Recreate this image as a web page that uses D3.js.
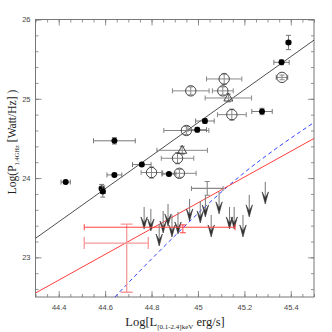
<!DOCTYPE html>
<html><head><meta charset="utf-8">
<script src="https://cdn.jsdelivr.net/npm/d3@7"></script>
<style>body{margin:0;background:#fff}</style></head>
<body>
<script>
// ---- data ----
const filledX    = [44.43, 44.64, 44.64, 44.585, 44.59, 44.758, 45.03, 44.997, 45.39, 45.36, 45.276, 44.875];
const filledY    = [23.95, 24.47, 24.04, 23.87, 23.83, 24.17, 24.72, 24.61, 25.71, 25.46, 24.84, 24.05];
const filledXerr = [0.02, 0.09, 0.032, 0.01, 0.01, 0.04, 0.04, 0.04, 0.01, 0.033, 0.044, 0.03];
const filledYerr = [0.02, 0.04, 0.02, 0.05, 0.07, 0.02, 0.03, 0.03, 0.09, 0.03, 0.04, 0.02];

const openX    = [45.113, 44.969, 45.107, 45.146, 44.95, 44.912, 44.80, 44.92, 45.362];
const openY    = [25.25, 25.10, 25.10, 24.80, 24.60, 24.25, 24.07, 24.06, 25.27];
const openXerr = [0.076, 0.079, 0.045, 0.062, 0.097, 0.07, 0.045, 0.072, 0.025];
const openYerr = [0.07, 0.05, 0.05, 0.07, 0.05, 0.07, 0.07, 0.05, 0.03];

const triX    = [45.131, 44.932];
const triY    = [25.01, 24.35];
const triXerr = [0.10, 0.109];
const triYerr = [0.05, 0.05];

const grayX = [45.04], grayY = [23.87], grayXerr = [0.068], grayYerr = [0.087];

const limX = [44.768, 44.797, 44.833, 44.850, 44.871, 44.888, 44.914, 44.964, 45.010, 45.032, 45.057, 45.091, 45.136, 45.156, 45.194, 45.221, 45.290];
const limY = [23.636, 23.611, 23.421, 23.585, 23.674, 23.535, 23.573, 23.737, 23.712, 23.788, 23.535, 23.826, 23.636, 23.636, 23.535, 23.788, 23.952];

// stacked points (asymmetric errors)
const stackX   = [44.693, 44.935];
const stackY   = [23.18, 23.38];
const stackXlo = [44.51, 44.51];
const stackXhi = [44.786, 45.16];
const stackYlo = [22.56, 23.31];
const stackYhi = [23.42, 23.41];

const lineX      = [44.3, 45.5];
const blackLineY = [23.24, 25.74];
const redLineY   = [22.55, 24.50];
const blueX = [44.642, 44.75, 44.9, 45.05, 45.2, 45.35, 45.5];
const blueY = [22.5, 22.83, 23.27, 23.69, 24.07, 24.40, 24.70];

const xMajor = [44.4, 44.6, 44.8, 45, 45.2, 45.4];
const yMajor = [23, 24, 25, 26];

// ---- chart ----
const W = 332, H = 332;
const L = 35.5, R = 314, T = 19.5, B = 297;
const x = d3.scaleLinear([44.3, 45.5], [L, R]);
const y = d3.scaleLinear([22.5, 26], [B, T]);

const svg = d3.select("body").append("svg").attr("width", W).attr("height", H);
svg.append("defs").append("clipPath").attr("id", "clip")
  .append("rect").attr("x", L).attr("y", T).attr("width", R - L).attr("height", B - T);

const fmt = d => String(+(+d).toFixed(1));
const xMinor = d3.range(44.3, 45.5001, 0.05).map(v => +v.toFixed(2));
const yMinor = d3.range(22.6, 26.0001, 0.2).map(v => +v.toFixed(1));

function styleAxis(g) {
  g.select(".domain").remove();
  g.selectAll(".tick line").attr("stroke", "#777").attr("stroke-width", 0.8);
  g.selectAll(".tick text").attr("font-family", "Liberation Sans, Arial, sans-serif")
    .attr("font-size", 7.5).attr("fill", "#444");
}
// bottom
svg.append("g").attr("transform", `translate(0,${B})`)
  .call(d3.axisBottom(x).tickValues(xMinor).tickSize(-3).tickFormat("")).call(styleAxis);
svg.append("g").attr("transform", `translate(0,${B})`)
  .call(d3.axisBottom(x).tickValues(xMajor).tickSize(-6).tickPadding(8).tickFormat(fmt)).call(styleAxis);
// top
svg.append("g").attr("transform", `translate(0,${T})`)
  .call(d3.axisTop(x).tickValues(xMinor).tickSize(-3).tickFormat("")).call(styleAxis);
svg.append("g").attr("transform", `translate(0,${T})`)
  .call(d3.axisTop(x).tickValues(xMajor).tickSize(-6).tickFormat("")).call(styleAxis);
// left
svg.append("g").attr("transform", `translate(${L},0)`)
  .call(d3.axisLeft(y).tickValues(yMinor).tickSize(-3).tickFormat("")).call(styleAxis);
svg.append("g").attr("transform", `translate(${L},0)`)
  .call(d3.axisLeft(y).tickValues(yMajor).tickSize(-6).tickPadding(5).tickFormat(fmt)).call(styleAxis);
// right
svg.append("g").attr("transform", `translate(${R},0)`)
  .call(d3.axisRight(y).tickValues(yMinor).tickSize(-3).tickFormat("")).call(styleAxis);
svg.append("g").attr("transform", `translate(${R},0)`)
  .call(d3.axisRight(y).tickValues(yMajor).tickSize(-6).tickFormat("")).call(styleAxis);

svg.append("rect").attr("x", L).attr("y", T).attr("width", R - L).attr("height", B - T)
  .attr("fill", "none").attr("stroke", "#777").attr("stroke-width", 1);

const plot = svg.append("g").attr("clip-path", "url(#clip)");

// lines
const line = d3.line().x(d => x(d[0])).y(d => y(d[1]));
plot.append("path").attr("d", line(d3.zip(lineX, blackLineY)))
  .attr("fill", "none").attr("stroke", "#222").attr("stroke-width", 0.8);
plot.append("path").attr("d", line.curve(d3.curveMonotoneX)(d3.zip(blueX, blueY)))
  .attr("fill", "none").attr("stroke", "#3344ff").attr("stroke-width", 1).attr("stroke-dasharray", "4,3");
line.curve(d3.curveLinear);
plot.append("path").attr("d", line(d3.zip(lineX, redLineY)))
  .attr("fill", "none").attr("stroke", "#ff3c3c").attr("stroke-width", 1);

// error bar helper
function errbar(g, cx, cy, xlo, xhi, ylo, yhi, color, cap, sw) {
  const px = x(cx), py = y(cy);
  g.append("line").attr("x1", x(xlo)).attr("x2", x(xhi)).attr("y1", py).attr("y2", py)
    .attr("stroke", color).attr("stroke-width", sw);
  g.append("line").attr("x1", px).attr("x2", px).attr("y1", y(ylo)).attr("y2", y(yhi))
    .attr("stroke", color).attr("stroke-width", sw);
  [xlo, xhi].forEach(v => g.append("line").attr("x1", x(v)).attr("x2", x(v))
    .attr("y1", py - cap).attr("y2", py + cap).attr("stroke", color).attr("stroke-width", sw));
  [ylo, yhi].forEach(v => g.append("line").attr("y1", y(v)).attr("y2", y(v))
    .attr("x1", px - cap).attr("x2", px + cap).attr("stroke", color).attr("stroke-width", sw));
}

// upper limit arrows
const arrowLen = 22;
limX.forEach((vx, i) => {
  const px = x(vx), py = y(limY[i]);
  plot.append("line").attr("x1", px).attr("x2", px).attr("y1", py).attr("y2", py + arrowLen - 4)
    .attr("stroke", "#777").attr("stroke-width", 1);
  const tip = py + arrowLen;
  plot.append("path")
    .attr("d", `M${px},${tip} L${px - 3.2},${tip - 12} L${px},${tip - 6} L${px + 3.2},${tip - 12} Z`)
    .attr("fill", "#333").attr("stroke", "#333").attr("stroke-width", 0.6).attr("stroke-linejoin", "round");
});

// stacked red points
const stackColors = ["#f59a9a", "#ff4040"];
stackX.forEach((vx, i) => errbar(plot, vx, stackY[i], stackXlo[i], stackXhi[i], stackYlo[i], stackYhi[i],
  stackColors[i], i === 0 ? 6 : 3, i === 0 ? 1.3 : 1));

// gray cross
grayX.forEach((vx, i) => errbar(plot, vx, grayY[i], vx - grayXerr[i], vx + grayXerr[i],
  grayY[i] - grayYerr[i], grayY[i] + grayYerr[i], "#888", 2.5, 1.1));

// open circles
openX.forEach((vx, i) => {
  errbar(plot, vx, openY[i], vx - openXerr[i], vx + openXerr[i], openY[i] - openYerr[i], openY[i] + openYerr[i], "#888", 2.5, 1);
  plot.append("circle").attr("cx", x(vx)).attr("cy", y(openY[i])).attr("r", 5.2)
    .attr("fill", "none").attr("stroke", "#333").attr("stroke-width", 0.9);
});
// triangles
triX.forEach((vx, i) => {
  errbar(plot, vx, triY[i], vx - triXerr[i], vx + triXerr[i], triY[i] - triYerr[i], triY[i] + triYerr[i], "#888", 2.5, 1);
  const px = x(vx), py = y(triY[i]);
  plot.append("path").attr("d", `M${px},${py - 5} L${px + 4.5},${py + 3} L${px - 4.5},${py + 3} Z`)
    .attr("fill", "none").attr("stroke", "#333").attr("stroke-width", 0.9);
});
// filled circles
filledX.forEach((vx, i) => {
  errbar(plot, vx, filledY[i], vx - filledXerr[i], vx + filledXerr[i], filledY[i] - filledYerr[i], filledY[i] + filledYerr[i], "#777", 2.5, 1);
  plot.append("circle").attr("cx", x(vx)).attr("cy", y(filledY[i])).attr("r", 3)
    .attr("fill", "#000");
});

// axis titles
const xt = svg.append("text").attr("x", 175).attr("y", 325.5).attr("text-anchor", "middle")
  .attr("font-family", "Liberation Serif, Times New Roman, serif").attr("font-size", 12.5).attr("fill", "#222");
xt.append("tspan").text("Log[L");
xt.append("tspan").attr("font-size", 7).attr("dy", 3).text("[0.1-2.4]keV");
xt.append("tspan").attr("dy", -3).text(" erg/s]");

const yt = svg.append("text").attr("transform", "translate(16,142) rotate(-90)").attr("text-anchor", "middle")
  .attr("font-family", "Liberation Serif, Times New Roman, serif").attr("font-size", 11.5).attr("fill", "#222");
yt.append("tspan").text("Log(P");
yt.append("tspan").attr("font-size", 6.5).attr("dy", 3).text("1.4GHz");
yt.append("tspan").attr("dy", -3).text(" [Watt/Hz] )");
</script>
</body></html>
